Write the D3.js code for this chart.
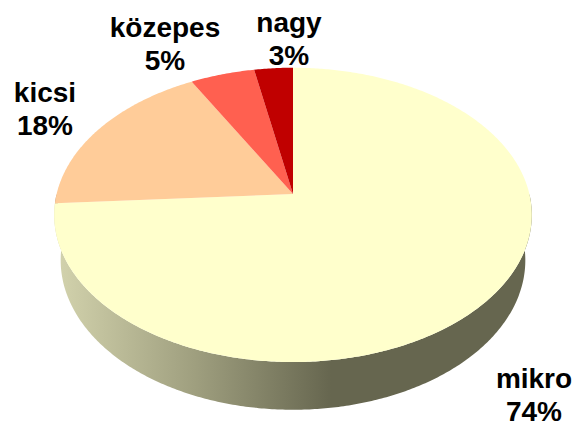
<!DOCTYPE html>
<html>
<head>
<meta charset="utf-8">
<script src="https://cdn.jsdelivr.net/npm/d3@7"></script>
<style>
  body { margin: 0; background: #fff; }
  text { font-family: "Liberation Sans", Arial, sans-serif; font-weight: bold; }
</style>
</head>
<body>
<div id="chart"></div>
<script>
// company size shares (3D pie)
const categories = ["mikro", "kicsi", "közepes", "nagy"];
const values = [74, 18, 5, 3];
const colors = ["#FFFFCC", "#FFCC99", "#FF6050", "#C00000"];

const width = 579, height = 426;

// simple perspective camera for the tilted disc
const cx = 293, cy = 194;
const tilt = Math.asin(0.61);
const dist = 5.58, focal = 1319, depth = 0.25;

function proj(theta, yw) {
  const X = Math.sin(theta), Z = Math.cos(theta);
  const yc = Z * Math.sin(tilt) + yw * Math.cos(tilt);
  const zc = dist + Z * Math.cos(tilt) - yw * Math.sin(tilt);
  return [cx + focal * X / zc, cy - focal * yc / zc];
}

const svg = d3.select("#chart").append("svg")
  .attr("width", width)
  .attr("height", height);

const grad = svg.append("defs").append("linearGradient")
  .attr("id", "side")
  .attr("gradientUnits", "userSpaceOnUse")
  .attr("x1", 53).attr("x2", 533).attr("y1", 0).attr("y2", 0);
grad.append("stop").attr("offset", "0").attr("stop-color", "#D4D4AE");
grad.append("stop").attr("offset", "0.3").attr("stop-color", "#9E9E7E");
grad.append("stop").attr("offset", "0.58").attr("stop-color", "#66664F");
grad.append("stop").attr("offset", "1").attr("stop-color", "#66664F");

const pie = d3.pie().sort(null).value(d => d)(values);
const line = d3.line();

function arcPoints(a0, a1, yw) {
  const n = Math.max(2, Math.ceil((a1 - a0) / 0.01));
  return d3.range(n + 1).map(i => proj(a0 + (a1 - a0) * i / n, yw));
}

// side walls (front half only, the rest is hidden under the top)
pie.forEach((p, i) => {
  const a0 = Math.max(p.startAngle, Math.PI / 2);
  const a1 = Math.min(p.endAngle, 3 * Math.PI / 2);
  if (a1 <= a0) return;
  const pts = arcPoints(a0, a1, 0).concat(arcPoints(a0, a1, -depth).reverse());
  svg.append("path")
    .attr("d", line(pts) + "Z")
    .attr("fill", i === 0 ? "url(#side)" : d3.color(colors[i]).darker(1.2));
});

// top faces
svg.append("g")
  .selectAll("path")
  .data(pie)
  .join("path")
  .attr("d", p => line([[cx, cy]].concat(arcPoints(p.startAngle, p.endAngle, 0))) + "Z")
  .attr("fill", (p, i) => colors[i]);

// labels
const labelPos = [[534, 388], [45, 102], [165, 37], [289, 32]];
const lab = svg.append("g").selectAll("text")
  .data(pie)
  .join("text")
  .attr("text-anchor", "middle")
  .attr("font-size", 28)
  .attr("fill", "#000");
lab.append("tspan")
  .attr("x", (p, i) => labelPos[i][0])
  .attr("y", (p, i) => labelPos[i][1])
  .text((p, i) => categories[i]);
lab.append("tspan")
  .attr("x", (p, i) => labelPos[i][0])
  .attr("dy", 33)
  .text(p => p.value + "%");
</script>
</body>
</html>
